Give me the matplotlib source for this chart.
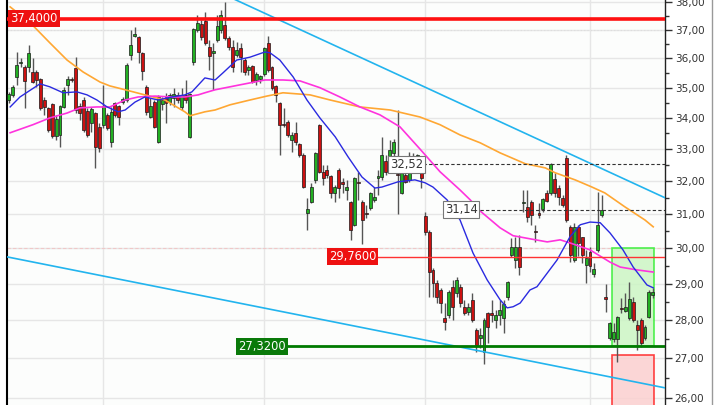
import matplotlib
matplotlib.use("Agg")
import matplotlib.pyplot as plt
from matplotlib.ticker import FixedLocator, FuncFormatter, NullFormatter
from matplotlib.patches import Rectangle
from matplotlib.lines import Line2D

# daily candles (oldest first)
opens = [34.59, 34.76, 35.36, 35.83, 35.70, 35.70, 35.53, 35.53, 35.29, 34.59,
         34.33, 34.46, 33.42, 33.45, 34.36, 35.10, 35.29, 35.67, 34.39, 34.59,
         34.23, 33.84, 34.16, 33.71, 33.78, 34.10, 33.23, 34.49, 34.39, 34.52,
         34.59, 36.11, 36.79, 36.75, 36.19, 35.03, 34.03, 34.52, 33.23, 34.46,
         34.69, 34.52, 34.66, 34.76, 34.36, 34.76, 33.39, 35.86, 37.00, 37.21,
         37.31, 36.40, 36.19, 36.65, 37.00, 37.17, 36.72, 36.40, 36.11, 36.36,
         35.94, 35.60, 35.73, 35.26, 35.29, 35.46, 36.54, 35.70, 35.06, 34.49,
         33.80, 33.87, 33.29, 33.52, 33.16, 32.82, 31.04, 31.37, 32.04, 33.78,
         32.29, 32.35, 32.16, 31.64, 32.35, 31.98, 31.73, 31.37, 30.69, 31.98,
         31.37, 31.04, 31.19, 31.43, 32.10, 32.13, 32.63, 32.60, 32.88, 32.23,
         31.64, 32.20, 32.04, 32.35, 32.54, 32.35, 30.95, 30.48, 29.39, 29.02,
         28.83, 28.07, 28.15, 28.92, 28.75, 28.92, 28.37, 28.23, 28.56, 27.75,
         27.53, 27.17, 28.20, 28.20, 28.01, 28.15, 28.07, 28.64, 29.82, 29.67,
         30.05, 31.34, 31.22, 31.37, 30.51, 31.04, 31.16, 31.64, 31.64, 32.07,
         31.79, 31.49, 32.72, 30.63, 29.67, 30.63, 30.34, 29.53, 29.90, 29.28,
         29.96, 30.98, 28.64, 27.53, 27.51, 27.51, 28.33, 28.26, 28.07, 28.50,
         27.88, 28.01, 27.53, 28.09, 28.70]
highs = [34.86, 35.10, 36.22, 36.00, 35.77, 36.47, 36.00, 35.60, 35.33, 34.69,
         34.36, 34.49, 34.10, 34.43, 35.03, 35.40, 35.36, 36.04, 34.49, 34.69,
         34.33, 34.36, 34.20, 33.84, 35.10, 34.16, 34.36, 34.52, 34.43, 34.69,
         35.83, 37.00, 37.10, 36.79, 36.22, 35.10, 34.66, 34.59, 34.76, 34.69,
         34.83, 34.83, 35.00, 34.86, 35.00, 35.26, 34.83, 37.07, 37.53, 37.35,
         37.64, 36.65, 36.54, 37.53, 37.71, 38.00, 36.79, 36.65, 36.58, 36.54,
         36.00, 35.77, 35.77, 35.53, 35.43, 36.40, 36.79, 35.73, 35.10, 34.52,
         34.33, 33.94, 33.55, 33.87, 33.20, 32.88, 31.49, 31.95, 32.91, 33.81,
         32.51, 32.51, 32.20, 31.88, 32.41, 32.10, 32.04, 31.40, 32.13, 32.29,
         31.43, 31.28, 31.67, 31.82, 32.35, 33.39, 32.82, 33.29, 33.32, 34.26,
         32.35, 32.29, 32.91, 32.88, 32.85, 32.66, 31.07, 30.54, 29.44, 29.11,
         28.89, 28.47, 28.83, 29.11, 29.19, 29.00, 28.56, 28.47, 28.75, 27.80,
         27.80, 28.07, 28.23, 28.56, 28.28, 28.56, 28.56, 29.08, 30.31, 30.34,
         30.39, 31.73, 31.73, 31.43, 30.69, 31.34, 31.49, 31.73, 32.57, 32.26,
         31.88, 31.58, 32.82, 30.69, 30.75, 30.69, 30.34, 29.96, 30.05, 29.58,
         31.67, 31.58, 29.00, 27.96, 27.93, 28.12, 28.61, 28.75, 29.05, 28.64,
         28.01, 28.07, 27.88, 28.83, 28.89]
lows = [34.49, 34.69, 35.10, 35.70, 34.33, 35.53, 35.16, 35.03, 34.26, 34.10,
        33.55, 33.35, 33.29, 33.06, 34.33, 34.76, 35.19, 34.16, 33.94, 33.55,
        33.39, 33.55, 32.41, 32.91, 33.68, 33.61, 33.06, 34.03, 33.78, 34.46,
        34.52, 35.94, 36.75, 35.83, 35.26, 34.10, 34.00, 33.68, 33.20, 34.26,
        33.84, 34.43, 34.36, 34.49, 34.26, 34.49, 33.36, 35.77, 36.93, 36.65,
        36.47, 35.60, 34.93, 36.58, 36.89, 36.65, 36.29, 35.53, 36.04, 35.53,
        35.43, 35.43, 35.16, 35.10, 35.16, 35.40, 35.53, 34.93, 34.52, 32.82,
        33.71, 33.39, 32.91, 33.13, 32.75, 31.79, 30.54, 31.34, 31.95, 32.26,
        31.88, 32.10, 31.49, 31.37, 31.49, 31.64, 31.43, 30.25, 30.65, 31.43,
        30.13, 30.89, 31.13, 31.37, 31.58, 32.04, 32.20, 32.29, 32.44, 31.00,
        31.61, 31.95, 31.98, 32.29, 32.48, 31.79, 30.39, 28.64, 28.64, 28.47,
        28.20, 27.75, 28.07, 28.01, 28.64, 28.37, 28.15, 28.15, 27.96, 27.17,
        27.27, 26.85, 27.40, 27.96, 27.80, 27.88, 27.67, 28.56, 29.76, 29.44,
        29.25, 31.07, 30.77, 30.69, 30.19, 30.89, 31.07, 31.37, 31.58, 31.52,
        31.28, 31.22, 30.77, 29.61, 29.61, 29.79, 29.58, 29.02, 29.33, 29.19,
        29.90, 30.92, 28.23, 27.48, 27.43, 26.91, 28.20, 28.23, 28.01, 27.96,
        27.22, 27.30, 27.48, 28.07, 28.61]
closes = [34.79, 35.03, 35.77, 35.86, 35.23, 36.19, 35.19, 35.26, 34.33, 34.36,
          33.61, 33.42, 33.97, 34.39, 34.93, 35.29, 35.27, 34.26, 34.16, 33.61,
          33.45, 34.30, 33.06, 33.03, 34.39, 33.68, 34.20, 34.10, 34.03, 34.62,
          35.77, 36.47, 36.86, 36.22, 35.57, 34.20, 34.39, 33.71, 34.69, 34.59,
          34.49, 34.76, 34.79, 34.59, 34.76, 34.59, 34.79, 37.03, 37.24, 36.75,
          36.54, 36.08, 36.26, 37.14, 37.53, 36.72, 36.40, 35.70, 36.29, 36.04,
          35.53, 35.70, 35.19, 35.46, 35.39, 36.36, 35.60, 35.00, 34.76, 33.78,
          33.76, 33.45, 33.45, 33.23, 32.82, 31.82, 31.16, 31.82, 32.88, 32.29,
          32.10, 32.20, 31.64, 31.82, 31.79, 31.92, 31.82, 30.54, 32.10, 31.95,
          30.83, 31.00, 31.64, 31.52, 32.16, 32.82, 32.29, 32.97, 33.23, 32.20,
          32.29, 31.98, 32.38, 32.75, 32.82, 32.10, 30.48, 29.33, 29.02, 28.64,
          28.47, 27.96, 28.78, 28.37, 29.11, 28.47, 28.20, 28.37, 28.01, 27.35,
          27.61, 28.01, 27.83, 28.15, 28.15, 28.28, 28.45, 29.05, 30.05, 30.05,
          29.47, 31.37, 30.92, 30.98, 30.48, 30.98, 31.46, 31.40, 32.54, 31.64,
          31.52, 31.28, 30.83, 29.82, 30.63, 30.16, 29.82, 29.73, 29.50, 29.42,
          30.69, 31.13, 28.59, 27.93, 27.69, 28.09, 28.30, 28.37, 28.59, 28.01,
          27.75, 27.40, 27.83, 28.78, 28.78]

# moving averages (x in candle index)
fast_x = [0.3, 2.8, 7.9, 10.4, 13.8, 17.3, 19.9, 22.4, 25.0, 27.8, 29.6, 32.1, 34.6, 38.0, 41.5,
          44.8, 46.6, 49.9, 52.5, 54.5, 58.0, 61.4, 65.2, 66.5, 69.0, 72.4, 75.9, 79.2, 83.1, 86.4,
          89.9, 93.2, 95.0, 99.1, 103.4, 106.0, 108.0, 111.6, 114.9, 118.2, 121.8, 125.1, 126.9,
          128.4, 130.2, 132.7, 134.5, 139.6, 142.9, 145.5, 148.0, 150.6, 153.1, 156.4, 159.0,
          162.5, 164.1]
fast_ma = [34.36, 34.69, 35.13, 35.03, 34.83, 34.86, 34.76, 34.59, 34.36, 34.20, 34.26, 34.52,
           34.69, 34.59, 34.69, 34.76, 34.86, 35.33, 35.26, 35.50, 35.94, 36.04, 36.22, 36.19,
           35.94, 35.36, 34.59, 34.00, 33.39, 32.75, 32.13, 31.79, 31.82, 31.98, 32.04, 31.95,
           31.82, 31.43, 30.83, 29.87, 29.11, 28.56, 28.34, 28.37, 28.47, 28.83, 28.92, 29.67,
           30.34, 30.69, 30.77, 30.75, 30.45, 29.96, 29.47, 28.97, 28.89]
mid_x = [0.3, 6.1, 10.4, 14.8, 18.1, 22.4, 25.7, 29.6, 32.9, 37.2, 41.5, 44.8, 48.2, 49.9, 52.5,
         59.0, 65.2, 69.8, 74.1, 79.2, 84.3, 89.4, 94.5, 99.6, 104.7, 109.8, 114.9, 117.5, 120.0,
         125.1, 128.4, 132.7, 137.1, 140.4, 142.9, 148.0, 153.1, 155.7, 160.0, 164.1]
mid_ma = [33.52, 33.78, 34.00, 34.16, 34.33, 34.36, 34.36, 34.59, 34.69, 34.72, 34.69, 34.69,
          34.76, 34.83, 34.93, 35.10, 35.26, 35.26, 35.23, 35.00, 34.69, 34.36, 34.10, 33.71,
          33.00, 32.29, 31.73, 31.43, 31.10, 30.60, 30.37, 30.28, 30.19, 30.25, 30.16, 29.96,
          29.61, 29.47, 29.39, 29.33]
slow_x = [0.3, 5.4, 10.4, 14.8, 18.9, 23.2, 25.7, 29.6, 34.6, 39.7, 44.8, 46.1, 49.9, 52.5, 56.3,
          61.4, 65.7, 69.8, 76.7, 81.8, 89.4, 97.1, 104.7, 109.8, 114.9, 120.0, 125.1, 131.5,
          136.6, 139.1, 144.2, 148.5, 151.8, 156.9, 162.0, 164.1]
slow_ma = [37.82, 37.25, 36.54, 35.94, 35.53, 35.19, 35.06, 34.93, 34.76, 34.59, 34.20, 34.07,
           34.20, 34.26, 34.43, 34.59, 34.72, 34.83, 34.76, 34.59, 34.36, 34.26, 34.03, 33.78,
           33.45, 33.20, 32.88, 32.54, 32.41, 32.26, 32.04, 31.82, 31.64, 31.22, 30.83, 30.63]

# trend channel anchors (index, price)
upper_trend = ([50, 167], [38.59, 31.50])
lower_trend = ([-0.5, 167], [29.76, 26.25])

month_starts = [24, 65, 106, 148]
resistance = 37.40
support = 27.32
mid_level = 29.76
marker_high = 32.52
marker_low = 31.14

fig = plt.figure(figsize=(7.2, 4.05), dpi=100)
ax = fig.add_axes([7 / 720, 0, 658 / 720, 1])
ax.set_facecolor('#fcfdfc')
ax.set_yscale('log')
ax.set_xlim(-0.5, 167.1)
ax.set_ylim(25.82, 38.07)

# candles
for i in range(len(opens)):
    o, h, l, c = opens[i], highs[i], lows[i], closes[i]
    up = c >= o
    ax.vlines(i, l, h, color='#555555', lw=1, zorder=3)
    bottom = min(o, c)
    height = max(abs(c - o), 0.03)
    ax.bar(i, height, bottom=bottom, width=0.75,
           color='#22b022' if up else '#cc1111',
           edgecolor='#1a1a1a', linewidth=0.5, zorder=3.5)

# moving averages
ax.plot(slow_x, slow_ma, color='#ffa733', lw=1.2, zorder=4)
ax.plot(mid_x, mid_ma, color='#ff33dd', lw=1.2, zorder=4)
ax.plot(fast_x, fast_ma, color='#2a2ae0', lw=1.0, zorder=4)

# trend channel
ax.plot(*upper_trend, color='#22b4ee', lw=1.2, zorder=4)
ax.plot(*lower_trend, color='#22b4ee', lw=1.2, zorder=4)

# target / stop zones
ax.add_patch(Rectangle((153.6, support), 10.8, 30.0 - support,
                       fc='#ccf5c4', ec='#33ee33', lw=1.2, alpha=0.85, zorder=2))
ax.add_patch(Rectangle((153.6, 25.0), 10.8, 27.10 - 25.0,
                       fc='#fbd0d0', ec='#ff2222', lw=1.2, alpha=0.85, zorder=2))
ax.hlines(30.0, -0.5, 167.1, colors='#f0c8c8', lw=0.8, linestyles=(0, (3, 2)), zorder=1)
ax.hlines(37.0, -0.5, 167.1, colors='#dddddd', lw=0.8, linestyles=(0, (1, 2)), zorder=1)

# horizontal levels
ax.hlines(resistance, -0.5, 167.1, colors='#ff1111', lw=2.6, zorder=5)
ax.hlines(mid_level, 93.8, 167.1, colors='#ff3333', lw=1.0, zorder=5)
ax.hlines(support, 70.8, 167.1, colors='#007a00', lw=2.0, zorder=5)
ax.hlines(marker_high, 105.5, 167.1, colors='#333333', lw=0.8, linestyles=(0, (3, 2)), zorder=5)
ax.hlines(marker_low, 120.0, 167.1, colors='#333333', lw=0.8, linestyles=(0, (3, 2)), zorder=5)

def fmt4(v):
    return f"{v:.4f}".replace('.', ',')

def fmt2(v):
    return f"{v:.2f}".replace('.', ',')

ax.text(0.3, resistance, fmt4(resistance), color='white', fontsize=8.3, va='center', ha='left',
        bbox=dict(boxstyle='square,pad=0.18', fc='#ee1111', ec='none'), zorder=6)
ax.text(81.5, mid_level, fmt4(mid_level), color='white', fontsize=8.3, va='center', ha='left',
        bbox=dict(boxstyle='square,pad=0.18', fc='#ee1111', ec='none'), zorder=6)
ax.text(58.3, support, fmt4(support), color='white', fontsize=8.3, va='center', ha='left',
        bbox=dict(boxstyle='square,pad=0.18', fc='#0a7a0a', ec='none'), zorder=6)
ax.text(97.0, marker_high, fmt2(marker_high), color='#333333', fontsize=8.3, va='center', ha='left',
        bbox=dict(boxstyle='square,pad=0.15', fc='white', ec='#777777', lw=0.8), zorder=6)
ax.text(111.0, marker_low, fmt2(marker_low), color='#333333', fontsize=8.3, va='center', ha='left',
        bbox=dict(boxstyle='square,pad=0.15', fc='white', ec='#777777', lw=0.8), zorder=6)

# axes styling
ax.yaxis.tick_right()
ax.yaxis.set_major_locator(FixedLocator(list(range(26, 39))))
ax.yaxis.set_minor_locator(FixedLocator([v + 0.5 for v in range(25, 39)]))
ax.yaxis.set_major_formatter(FuncFormatter(lambda v, p: fmt2(v)))
ax.yaxis.set_minor_formatter(NullFormatter())
ax.tick_params(axis='y', which='major', length=5, width=1, color='#333333',
               labelsize=7.5, labelcolor='#333333', pad=2)
ax.tick_params(axis='y', which='minor', length=3, width=1, color='#333333')
ax.set_xticks(month_starts)
ax.set_xticklabels([])
ax.tick_params(axis='x', length=0)
ax.grid(True, which='major', color='#e6e6e6', lw=1, zorder=0)
ax.set_axisbelow(True)
for side in ['top', 'bottom']:
    ax.spines[side].set_visible(False)
ax.spines['left'].set_color('black')
ax.spines['left'].set_linewidth(1.5)
ax.spines['right'].set_color('#222222')
ax.spines['right'].set_linewidth(1.0)

fig.add_artist(Line2D([712 / 720, 712 / 720], [0, 1], color='#999999', lw=1))

fig.savefig('out.png', dpi=100)
